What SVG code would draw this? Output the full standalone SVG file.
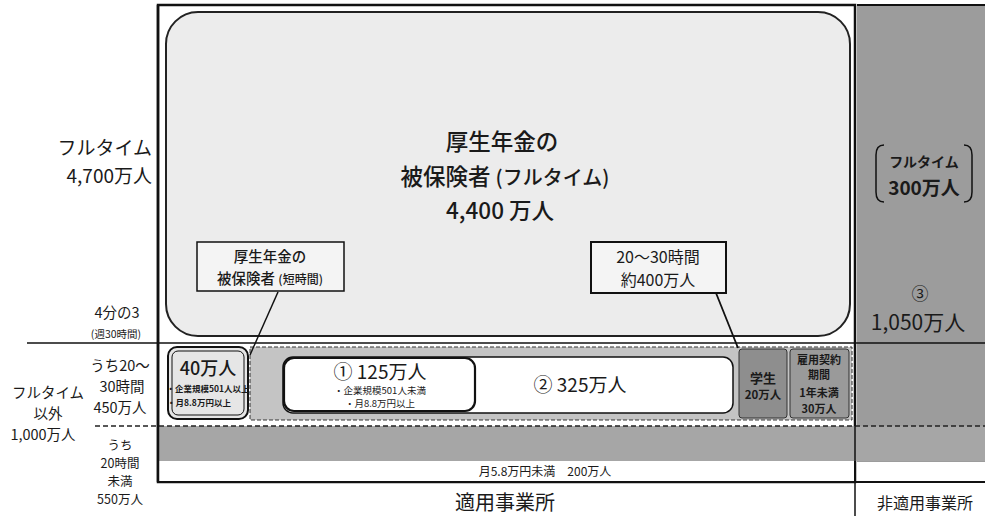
<svg xmlns="http://www.w3.org/2000/svg" width="985" height="516" viewBox="0 0 985 516">
<style>
text{font-family:"Noto Sans CJK JP","Noto Sans",sans-serif;fill:#1a1a1a}
.l{font-size:19px;text-anchor:end}
.s{font-size:14.5px;text-anchor:middle}
.t{font-size:12.5px;text-anchor:middle}
.m{text-anchor:middle}
.ln{stroke:#111;fill:none}
.dash{stroke:#222;stroke-dasharray:5 3;fill:none}
</style>
<rect width="985" height="516" fill="#fff"/>
<g id="noncovered">
<rect x="857" y="5" width="128" height="457" fill="#9c9c9c"/>
<line x1="857" y1="5" x2="985" y2="5" class="ln" stroke-width="2"/>
<path d="M884 145 Q876 145 876 155 L876 192 Q876 202 884 202 M964 145 Q972 145 972 155 L972 192 Q972 202 964 202" class="ln" stroke-width="1.5"/>
<text x="924" y="167" class="m" font-size="14" font-weight="bold">フルタイム</text>
<text x="924" y="195" class="m" font-size="19" font-weight="bold">300万人</text>
<text x="920" y="300" class="m" font-size="17">③</text>
<text x="918" y="330" class="m" font-size="21">1,050万人</text>
</g>
<g id="fulltime">
<rect x="158" y="5" width="697" height="477" fill="#fff" stroke="#111" stroke-width="2.5"/>
<rect x="166" y="12" width="684" height="324" rx="32" fill="#ececec" stroke="#222" stroke-width="2"/>
<text x="502" y="150" class="m" font-size="22.5" font-weight="500">厚生年金の</text>
<text x="505" y="185" class="m" font-size="22.5" font-weight="500">被保険者 <tspan font-size="20">(フルタイム)</tspan></text>
<text x="500" y="219" class="m" font-size="22.5" font-weight="500">4,400 万人</text>
</g>
<g id="row2">
<rect x="250" y="347" width="602" height="73" fill="#c4c4c4" stroke="#333" stroke-dasharray="4 2"/>
<rect x="168" y="347" width="80" height="72" rx="9" fill="#e6e6e6" stroke="#111" stroke-width="2"/>
<rect x="172" y="351" width="72" height="64" rx="6" fill="none" stroke="#111"/>
<text x="208" y="375" class="m" font-size="18" font-weight="500">40万人</text>
<text x="208" y="392" class="m" font-size="8.5" font-weight="bold">・企業規模501人以上</text>
<text x="199" y="406" class="m" font-size="8.5" font-weight="bold">・月8.8万円以上</text>
</g>
<g id="n325">
<rect x="283" y="357" width="450" height="56" rx="10" fill="#fff" stroke="#111" stroke-width="1.5"/>
<text x="580" y="392" class="m" font-size="19">② 325万人</text>
</g>
<g id="n125">
<rect x="284" y="358" width="191" height="53" rx="10" fill="#fff" stroke="#111" stroke-width="2.2"/>
<text x="380" y="379" class="m" font-size="19">① 125万人</text>
<text x="380" y="394" class="m" font-size="9.5">・企業規模501人未満</text>
<text x="380" y="407" class="m" font-size="9.5">・月8.8万円以上</text>
</g>
<g id="student">
<rect x="739" y="349" width="48" height="69" rx="3" fill="#8e8e8e" stroke="#333"/>
<text x="763" y="383" class="m" font-size="13" font-weight="bold">学生</text>
<text x="763" y="399" class="m" font-size="11.5" font-weight="bold">20万人</text>
</g>
<g id="shortterm">
<rect x="790" y="349" width="59" height="69" rx="3" fill="#9a9a9a" stroke="#333"/>
<text x="819" y="364" class="m" font-size="11" font-weight="bold">雇用契約</text>
<text x="819" y="379" class="m" font-size="11" font-weight="bold">期間</text>
<text x="819" y="397" class="m" font-size="11" font-weight="bold">1年未満</text>
<text x="819" y="413" class="m" font-size="11" font-weight="bold">30万人</text>
</g>
<g id="row3">
<rect x="159" y="426" width="826" height="35" fill="#a6a6a6"/>
<rect x="159" y="461" width="695" height="20" fill="#fff"/>
<text x="545" y="476" class="m" font-size="12">月5.8万円未満　200万人</text>
</g>
<g id="callout1">
<rect x="197" y="242" width="147" height="49" fill="#f4f4f4" stroke="#111" stroke-width="1.5"/>
<text x="270" y="262" class="m" font-size="14.5" font-weight="500">厚生年金の</text>
<text x="270" y="284" class="m" font-size="14.5" font-weight="500">被保険者 <tspan font-size="12">(短時間)</tspan></text>
</g>
<g id="callout2">
<rect x="591" y="242" width="135" height="51" fill="#f4f4f4" stroke="#111" stroke-width="2"/>
<text x="658" y="263" class="m" font-size="16">20～30時間</text>
<text x="658" y="286" class="m" font-size="16">約400万人</text>
</g>
<g id="connectors">
<line x1="278" y1="292" x2="250" y2="355" class="ln" stroke-width="1.5"/>
<line x1="716" y1="293" x2="738" y2="348" class="ln" stroke-width="1.8"/>
<line x1="27" y1="343" x2="985" y2="343" class="ln" stroke-width="1.5"/>
<line x1="95" y1="426" x2="985" y2="426" class="dash" stroke-width="1.5"/>
<line x1="158" y1="482" x2="985" y2="482" class="ln" stroke-width="2"/>
<line x1="855" y1="5" x2="855" y2="516" class="ln" stroke-width="1.5"/>
<line x1="158" y1="5" x2="158" y2="482" class="ln" stroke-width="2.5"/>
</g>
<g id="labels">
<text x="152" y="155" class="l">フルタイム</text>
<text x="152" y="183" class="l">4,700万人</text>
<text x="117" y="318" class="m" font-size="14.5">4分の3</text>
<text x="116" y="338" class="m" font-size="10.5">(週30時間)</text>
<text x="120" y="371" class="s">うち20～</text>
<text x="122" y="392" class="s">30時間</text>
<text x="120" y="413" class="s">450万人</text>
<text x="48" y="398" class="s">フルタイム</text>
<text x="48" y="419" class="s">以外</text>
<text x="43" y="440" class="s">1,000万人</text>
<text x="120" y="450" class="t">うち</text>
<text x="120" y="468" class="t">20時間</text>
<text x="120" y="486" class="t">未満</text>
<text x="120" y="504" class="t">550万人</text>
<text x="505" y="510" class="m" font-size="20">適用事業所</text>
<text x="925" y="509" class="m" font-size="16">非適用事業所</text>
</g>
</svg>
